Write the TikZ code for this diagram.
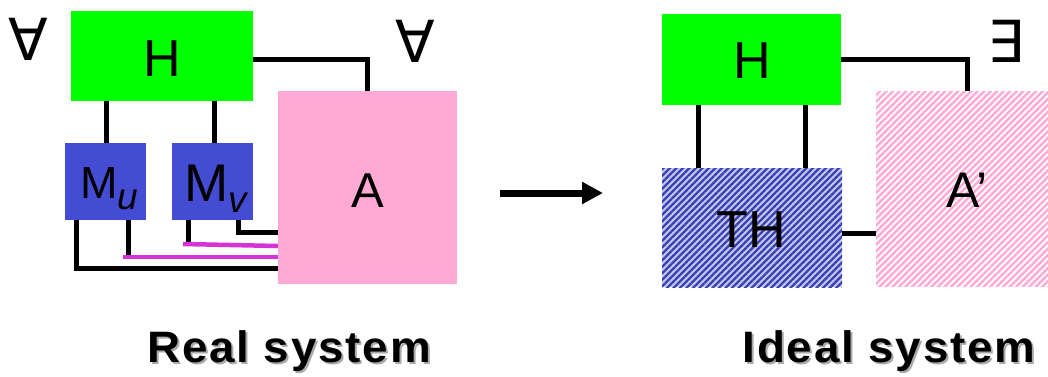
\documentclass[tikz,border=0pt]{standalone}
\usepackage{fontspec}
\setmainfont{Liberation Sans}
\newfontfamily\djv{DejaVu Sans}
\newfontfamily\capfont[LetterSpace=4]{Liberation Sans}
\usetikzlibrary{arrows.meta,patterns.meta}
\definecolor{hgreen}{RGB}{0,255,0}
\definecolor{mblue}{RGB}{68,76,212}
\definecolor{apink}{RGB}{255,170,212}
\definecolor{mag}{RGB}{214,51,214}
\definecolor{thlight}{RGB}{196,200,238}
\definecolor{thdark}{RGB}{58,66,176}
\definecolor{aplight}{RGB}{255,172,214}
\definecolor{shadowgray}{RGB}{170,170,170}
\newcommand{\fsz}[1]{\fontsize{#1}{#1}\selectfont}
\begin{document}
\begin{tikzpicture}[x=1pt,y=-1pt,
  boxbase/.style={draw=none,inner sep=0pt,outer sep=0pt},
  hbox/.style={boxbase,fill=hgreen},
  mbox/.style={boxbase,fill=mblue},
  abox/.style={boxbase,fill=apink},
  thbox/.style={boxbase,preaction={fill=thlight},pattern={Lines[angle=45,distance=4.6pt,line width=2.3pt]},pattern color=thdark},
  apbox/.style={boxbase,preaction={fill=aplight},pattern={Lines[angle=45,distance=4.6pt,line width=1.8pt]},pattern color=white},
  txt/.style={inner sep=0pt,anchor=base,text=black},
  wire/.style={draw=black,line width=5pt},
  mwire/.style={draw=mag,line width=4.5pt},
  caption/.style={inner sep=0pt,anchor=base,font=\capfont\fsz{44}\bfseries,xscale=1.04},
]
\useasboundingbox (0,0) rectangle (1048,376);

% ---------- Real system ----------
\node[hbox,minimum width=182,minimum height=90] (H1) at (162,56) {};
\node[abox,minimum width=179,minimum height=193] (A) at (367.5,187.5) {};
\node[mbox,minimum width=81,minimum height=77] (Mu) at (105.5,181.5) {};
\node[mbox,minimum width=81,minimum height=77] (Mv) at (212.5,181.5) {};

\node[txt,font=\fsz{52}] (H1t) at (162,76) {H};
\node[txt,font=\fsz{49}] (At) at (368,207) {A};
\node[txt,font=\fsz{45},anchor=base west] (Mut) at (80,198) {M\raisebox{-11pt}{\fsz{37}\itshape u}};
\node[txt,font=\fsz{53},anchor=base west] (Mvt) at (184,201) {M\raisebox{-11pt}{\fsz{37}\itshape v}};

\node[txt,font=\djv\fsz{58}] (fa1) at (28,60) {∀};
\node[txt,font=\djv\fsz{58}] (fa2) at (415.5,62) {∀};

\draw[wire] (H1.east |- 0,59) -| (A.north);
\draw[wire] (H1.south -| 106,0) -- (Mu.north -| 106,0);
\draw[wire] (H1.south -| 214,0) -- (Mv.north -| 214,0);

\draw[wire] (Mu.south -| 76,0) -- (76,270.5) (73.5,268) -- (A.west |- 0,268);
\draw[wire] (Mu.south -| 128,0) -- (128,257);
\draw[mwire] (123,257) -- (A.west |- 0,257);
\draw[wire] (Mv.south -| 188,0) -- (188,244);
\draw[mwire] (183,244) -- (A.west |- 0,246);
\draw[wire] (Mv.south -| 238,0) |- (A.west |- 0,232);

% ---------- arrow ----------
\coordinate (arrS) at (500,193);
\coordinate (arrE) at (603,193);
\draw[line width=7pt,-{Triangle[length=21pt,width=21pt]}] (arrS) -- (arrE);

% ---------- Ideal system ----------
\node[hbox,minimum width=179,minimum height=91] (H2) at (751.5,59.5) {};
\node[thbox,minimum width=180,minimum height=119] (TH) at (752,227.5) {};
\node[apbox,minimum width=172,minimum height=196] (Ap) at (962,189) {};

\node[txt,font=\fsz{52}] (H2t) at (752,78) {H};
\node[txt,font=\fsz{52}] (THt) at (751,247) {TH};
\node[txt,font=\fsz{50}] (Apt) at (967,207) {A’};
\node[txt,font=\djv\fsz{58}] (ex) at (1006,62) {∃};

\draw[wire] (H2.east) -| (Ap.north -| 967,0);
\draw[wire] (H2.south -| 698,0) -- (TH.north -| 698,0);
\draw[wire] (H2.south -| 805,0) -- (TH.north -| 805,0);
\draw[wire] (TH.east |- 0,233) -- (Ap.west |- 0,233);

% ---------- captions ----------
\node[caption,text=shadowgray] (c1s) at (291,364) {Real system};
\node[caption] (c1) at (289,362) {Real system};
\node[caption,text=shadowgray] (c2s) at (891,364) {Ideal system};
\node[caption] (c2) at (889,362) {Ideal system};
\end{tikzpicture}
\end{document}
